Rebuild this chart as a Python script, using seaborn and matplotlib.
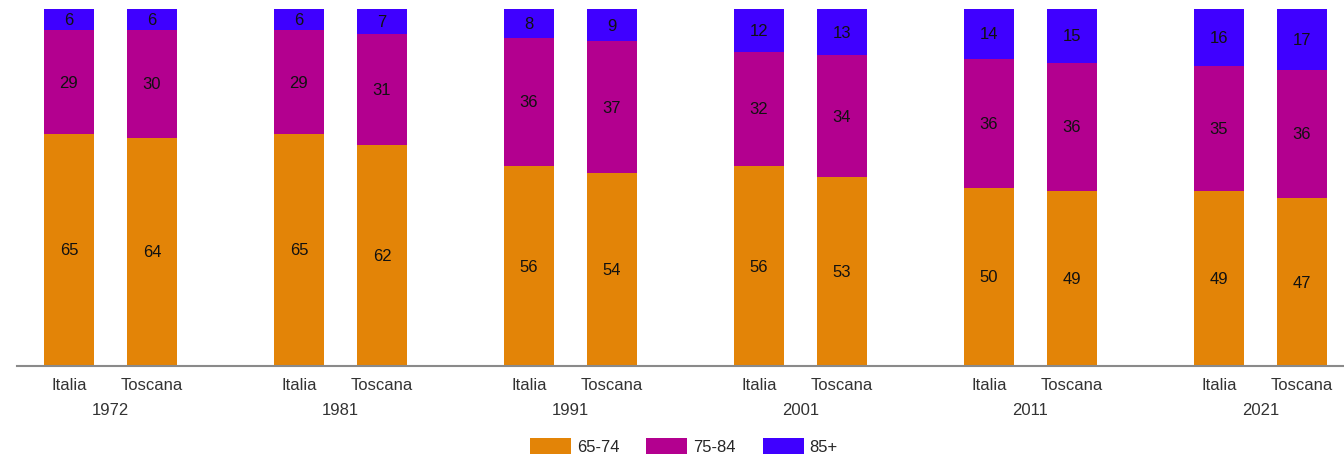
import matplotlib
matplotlib.use("Agg")
import matplotlib.pyplot as plt
from matplotlib.patches import Patch
import numpy as np
import pandas as pd
import seaborn as sns

# data (percent of over-65 population by age band)
years = ["1972", "1981", "1991", "2001", "2011", "2021"]
areas = ["Italia", "Toscana"]
age_bands = ["65-74", "75-84", "85+"]
italia_65_74 = [65, 65, 56, 56, 50, 49]
italia_75_84 = [29, 29, 36, 32, 36, 35]
italia_85 = [6, 6, 8, 12, 14, 16]
toscana_65_74 = [64, 62, 54, 53, 49, 47]
toscana_75_84 = [30, 31, 37, 34, 36, 36]
toscana_85 = [6, 7, 9, 13, 15, 17]

colors = ["#E38407", "#B3008F", "#3F00FF"]

sns.set_theme(style="white")
plt.rcParams["font.family"] = ["Liberation Sans", "DejaVu Sans"]

rows = []
for i, y in enumerate(years):
    for area, vals in (("Italia", (italia_65_74, italia_75_84, italia_85)),
                       ("Toscana", (toscana_65_74, toscana_75_84, toscana_85))):
        rec = {"anno": y, "area": area}
        for band, v in zip(age_bands, vals):
            rec[band] = v[i]
        rows.append(rec)
df = pd.DataFrame(rows)
df["c1"] = df["65-74"]
df["c2"] = df["65-74"] + df["75-84"]
df["c3"] = df["c2"] + df["85+"]

fig = plt.figure(figsize=(13.44, 4.56), dpi=100)
ax = fig.add_axes([17 / 1344, 1 - 367 / 456, 1 - 17 / 1344, (367 - 10) / 456])

width = 0.722
gap = 0.398
# stacked bars: draw cumulative totals from the top layer down
for col, c in zip(["c3", "c2", "c1"], colors[::-1]):
    sns.barplot(data=df, x="anno", y=col, hue="area", order=years,
                hue_order=areas, palette=[c, c], width=width, gap=gap,
                dodge=True, legend=False, ax=ax, linewidth=0, saturation=1)

off = width / 4
for i, y in enumerate(years):
    for j, area in enumerate(areas):
        r = df[(df.anno == y) & (df.area == area)].iloc[0]
        xpos = i + (off if j else -off)
        bottom = 0
        for band in age_bands:
            v = r[band]
            ax.text(xpos, bottom + v / 2, str(v), ha="center", va="center",
                    fontsize=12, color="#111111")
            bottom += v

ax.set_ylim(0, 100)
ax.set_xlim((17 - 110.5) / 230, (1344 - 110.5) / 230)
ax.set_yticks([])
ax.set_xlabel("")
ax.set_ylabel("")
for s in ["top", "right", "left"]:
    ax.spines[s].set_visible(False)
ax.spines["bottom"].set_color("#8a8a8a")
ax.spines["bottom"].set_linewidth(1.5)

bar_pos = [i + d for i in range(len(years)) for d in (-off, off)]
ax.set_xticks(bar_pos, areas * len(years), minor=True)
ax.set_xticks(range(len(years)), years)
ax.tick_params(axis="x", which="minor", length=0, pad=8, labelsize=12,
               labelcolor="#333333")
ax.tick_params(axis="x", which="major", length=0, pad=26, labelsize=12,
               labelcolor="#333333")

handles = [Patch(facecolor=c, edgecolor="none") for c in colors]
fig.legend(handles, age_bands, loc="center", ncol=3, frameon=False,
           bbox_to_anchor=(684 / 1344, 1 - 447 / 456), fontsize=12,
           handlelength=2.46, handleheight=1.08, handletextpad=0.36,
           columnspacing=1.6, borderpad=0)

fig.savefig("out.png", dpi=100)
